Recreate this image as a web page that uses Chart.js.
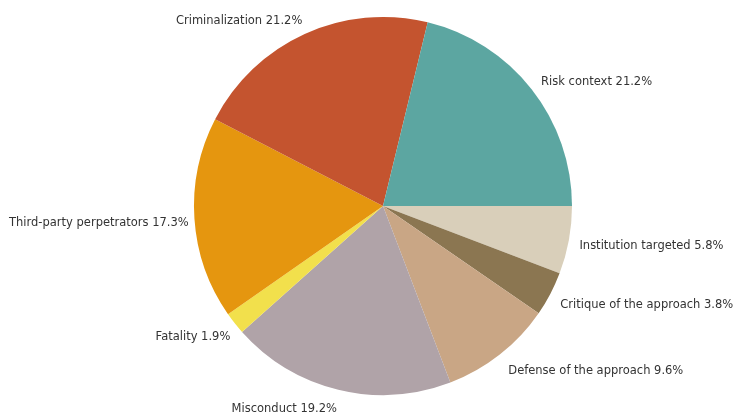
<!DOCTYPE html>
<html>
<head>
<meta charset="utf-8">
<script src="https://cdn.jsdelivr.net/npm/chart.js@4/dist/chart.umd.min.js"></script>
<style>
  html, body { margin: 0; padding: 0; background: #ffffff; }
  #wrap { width: 736px; height: 415px; position: relative; }
</style>
</head>
<body>
<div id="wrap"><canvas id="c" width="736" height="415"></canvas></div>
<script>
// Categories in counter-clockwise order starting at 3 o'clock
const categories = ["Risk context", "Criminalization", "Third-party perpetrators", "Fatality", "Misconduct", "Defense of the approach", "Critique of the approach", "Institution targeted"];
const shares = [21.2, 21.2, 17.3, 1.9, 19.2, 9.6, 3.8, 5.8];
const colors = ["#5ca6a1", "#c4542f", "#e5960f", "#f2e04c", "#b0a3a8", "#c9a685", "#8b7651", "#d9cfba"];

// Chart.js draws clockwise, so reverse to obtain the counter-clockwise layout
const labelsR = categories.slice().reverse();
const sharesR = shares.slice().reverse();
const colorsR = colors.slice().reverse();

const outsideLabels = {
  id: 'outsideLabels',
  afterDatasetsDraw(chart) {
    const ctx = chart.ctx;
    const meta = chart.getDatasetMeta(0);
    ctx.save();
    ctx.font = '11.5px "DejaVu Sans", Verdana, sans-serif';
    ctx.fillStyle = '#333333';
    ctx.textBaseline = 'middle';
    meta.data.forEach((arc, i) => {
      const p = arc.getProps(['x', 'y', 'startAngle', 'endAngle', 'outerRadius'], true);
      const mid = (p.startAngle + p.endAngle) / 2;
      const rx = p.outerRadius * 1.03;
      const ry = p.outerRadius * 1.09;
      const right = Math.cos(mid) >= 0;
      const x = p.x + Math.cos(mid) * rx + (right ? 5 : 0);
      const y = p.y + Math.sin(mid) * ry + 3;
      ctx.textAlign = right ? 'left' : 'right';
      ctx.fillText(labelsR[i] + ' ' + sharesR[i].toFixed(1) + '%', x, y);
    });
    ctx.restore();
  }
};

new Chart(document.getElementById('c'), {
  type: 'pie',
  data: {
    labels: labelsR,
    datasets: [{
      data: sharesR,
      backgroundColor: colorsR,
      borderWidth: 0
    }]
  },
  options: {
    responsive: false,
    animation: false,
    rotation: 90,
    layout: { padding: { top: 17, bottom: 20, left: 194, right: 164 } },
    plugins: { legend: { display: false }, tooltip: { enabled: false } }
  },
  plugins: [outsideLabels]
});
</script>
</body>
</html>
